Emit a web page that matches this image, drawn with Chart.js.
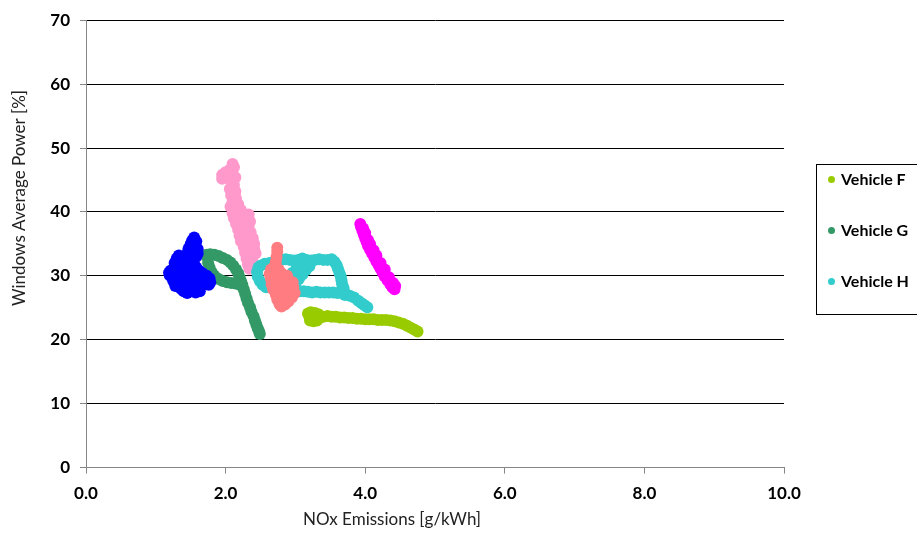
<!DOCTYPE html>
<html>
<head>
<meta charset="utf-8">
<script src="https://cdn.jsdelivr.net/npm/chart.js@4.4.1/dist/chart.umd.min.js"></script>
<style>
  html, body { margin:0; padding:0; background:#fff; }
  #wrap { position:relative; width:917px; height:542px; overflow:hidden; }
  #legend { position:absolute; left:816px; top:164px; width:120px; height:151px; border:1px solid #000; box-sizing:border-box;
            font-family:Lato, 'Open Sans', sans-serif; font-weight:700; font-size:16px; color:#000; }
  #legend div { position:absolute; left:0; height:20px; line-height:20px; white-space:nowrap; }
  #legend span { display:inline-block; width:7px; height:7px; border-radius:50%; margin:0 6px 0 11px; vertical-align:middle; position:relative; top:-1px; }
</style>
</head>
<body>
<div id="wrap">
  <canvas id="c" width="917" height="542"></canvas>
  <div id="legend"></div>
</div>
<script>
'use strict';

// NOx [g/kWh] vs windows average power [%]
const vehB = [[1.55,36.0],[1.52,35.5],[1.58,35.4],[1.5,35.0],[1.56,34.8],[1.47,34.3],[1.53,34.0],[1.45,33.5],[1.5,33.2],[1.4,33.0],[1.33,33.2],[1.3,32.7],[1.35,32.2],[1.27,32.0],[1.3,31.5],[1.25,31.0],[1.21,30.8],[1.19,30.5],[1.2,30.1],[1.23,29.8],[1.28,29.6],[1.3,29.0],[1.33,28.5],[1.36,28.0],[1.4,27.6],[1.45,27.3],[1.48,27.6],[1.5,28.2],[1.53,28.8],[1.58,29.2],[1.63,29.5],[1.68,29.2],[1.72,28.7],[1.76,28.6],[1.78,29.0],[1.77,29.6],[1.73,30.0],[1.67,30.4],[1.62,30.8],[1.58,31.3],[1.55,31.8],[1.5,32.4],[1.45,32.0],[1.42,31.4],[1.4,30.8],[1.38,30.2],[1.42,29.6],[1.45,29.0],[1.5,28.6],[1.6,28.0],[1.63,27.6],[1.57,27.4],[1.35,30.8],[1.3,30.2],[1.25,29.2],[1.28,28.4],[1.6,33.5],[1.6,34.2],[1.58,33.0],[1.48,30.5],[1.52,31.0],[1.68,29.8],[1.4,29.0]];
const vehC = [[2.10,47.5],[2.12,47.0],[2.06,46.6],[2.0,46.2],[1.95,45.8],[1.95,45.2],[2.02,45.5],[2.1,46.0],[2.14,45.4],[2.08,44.8],[2.12,44.2],[2.06,43.6],[2.14,43.2],[2.08,42.6],[2.15,42.1],[2.1,41.6],[2.18,41.2],[2.07,40.8],[2.14,40.5],[2.22,40.3],[2.1,39.8],[2.18,39.6],[2.27,39.5],[2.33,39.6],[2.12,39.0],[2.2,38.8],[2.3,38.7],[2.35,38.5],[2.15,38.1],[2.24,37.9],[2.33,37.7],[2.18,37.2],[2.27,37.0],[2.36,36.8],[2.2,36.3],[2.3,36.1],[2.39,35.9],[2.22,35.4],[2.32,35.2],[2.41,35.0],[2.26,34.5],[2.35,34.3],[2.41,34.2],[2.28,33.6],[2.36,33.4],[2.43,33.5],[2.3,32.7],[2.38,32.6],[2.32,31.8],[2.38,31.5],[2.34,31.1]];
const vehD = [[2.74,34.4],[2.74,33.8],[2.73,33.0],[2.72,32.2],[2.70,31.5],[2.65,31.0],[2.76,31.0],[2.63,30.3],[2.70,30.3],[2.80,30.4],[2.88,30.0],[2.65,29.5],[2.72,29.5],[2.80,29.6],[2.90,29.3],[2.96,29.0],[2.66,28.7],[2.74,28.7],[2.82,28.8],[2.92,28.5],[2.97,28.2],[2.68,27.9],[2.76,27.9],[2.85,27.9],[2.94,27.6],[2.99,27.3],[2.72,27.1],[2.8,27.0],[2.9,26.9],[2.95,26.6],[2.74,26.3],[2.82,26.2],[2.9,26.0],[2.77,25.6],[2.85,25.5],[2.8,25.2]];
const vehE = [[3.93,38.1],[3.94,37.7],[3.96,37.1],[3.98,36.5],[4.0,35.9],[4.02,35.3],[4.04,34.7],[4.07,34.1],[4.1,33.5],[4.13,32.9],[4.16,32.3],[4.19,31.7],[4.22,31.1],[4.25,30.5],[4.28,29.9],[4.32,29.3],[4.36,28.7],[4.39,28.2],[4.42,27.9],[3.97,37.4],[4.0,36.7],[4.04,35.6],[4.07,35.0],[4.12,34.0],[4.16,33.2],[4.22,32.0],[4.28,31.0],[4.34,29.8],[4.4,28.9],[4.43,28.4]];
const vehF = [[3.18,24.1],[3.22,24.3],[3.28,24.2],[3.33,24.0],[3.2,23.6],[3.27,23.5],[3.34,23.4],[3.21,23.0],[3.26,22.9],[3.31,23.0],[3.4,23.6],[3.46,23.7],[3.52,23.6],[3.58,23.6],[3.64,23.5],[3.7,23.5],[3.76,23.4],[3.82,23.4],[3.88,23.3],[3.94,23.3],[4.0,23.2],[4.06,23.2],[4.12,23.2],[4.18,23.1],[4.24,23.1],[4.3,23.1],[4.36,23.0],[4.42,22.9],[4.48,22.7],[4.54,22.5],[4.6,22.2],[4.65,21.9],[4.7,21.6],[4.75,21.3]];
const vehG = [[1.73,33.3],[1.78,33.4],[1.84,33.3],[1.9,33.1],[1.96,32.8],[2.02,32.5],[2.07,32.1],[2.11,31.6],[2.15,31.0],[2.18,30.4],[2.2,29.8],[2.22,29.2],[2.24,28.6],[2.26,27.9],[2.28,27.2],[2.3,26.5],[2.32,25.8],[2.35,25.1],[2.37,24.4],[2.4,23.7],[2.42,23.0],[2.44,22.4],[2.46,21.8],[2.48,21.3],[2.49,20.9],[1.74,32.8],[1.75,32.0],[1.77,31.3],[1.8,30.6],[1.84,30.0],[1.9,29.5],[1.96,29.2],[2.02,29.0],[2.08,28.9],[2.14,28.8],[2.2,28.6]];
const vehH = [[2.47,31.3],[2.45,30.6],[2.46,29.9],[2.49,29.2],[2.53,28.6],[2.58,28.2],[2.5,31.6],[2.56,31.9],[2.63,32.0],[2.7,32.2],[2.8,32.5],[2.86,32.6],[2.92,32.5],[2.98,32.4],[3.04,32.5],[3.1,32.7],[3.16,32.5],[3.22,32.4],[3.28,32.5],[3.34,32.6],[3.4,32.5],[3.46,32.5],[3.52,32.6],[3.56,32.2],[3.59,31.7],[3.61,31.1],[3.63,30.5],[3.65,29.9],[3.66,29.3],[3.67,28.7],[3.69,28.1],[3.7,27.5],[3.71,27.0],[3.66,27.3],[3.6,27.3],[3.54,27.4],[3.48,27.4],[3.42,27.4],[3.36,27.4],[3.3,27.5],[3.24,27.4],[3.18,27.5],[3.12,27.6],[3.06,27.6],[3.0,27.7],[2.96,28.2],[3.0,28.8],[3.05,29.5],[3.1,30.2],[3.15,30.9],[3.2,31.5],[2.96,30.5],[3.02,31.3],[3.08,31.9],[3.0,29.7],[3.78,26.9],[3.84,26.6],[3.9,26.1],[3.95,25.7],[3.99,25.4],[4.03,25.1]];

const seriesNames  = ['Vehicle B','Vehicle C','Vehicle D','Vehicle E','Vehicle F','Vehicle G','Vehicle H'];
const seriesData   = [vehB, vehC, vehD, vehE, vehF, vehG, vehH];
const seriesColors = ['#0000ff','#ff99cc','#ff7c80','#ff00ff','#99cc00','#339966','#33cccc'];
const seriesOrder  = [1, 5, 2, 7, 6, 3, 4];
const legendNames  = ['Vehicle F','Vehicle G','Vehicle H'];

const xTitle = 'NOx Emissions [g/kWh]';
const yTitle = 'Windows Average Power [%]';

const FONT = "Lato, 'Open Sans', sans-serif";
const AXIS_GRAY = '#868686';

// y title sits a bit above the plot middle in the original, so draw it by hand
const yTitlePlugin = {
    id:'yTitle',
    afterDraw(chart){
        const ctx = chart.ctx;
        ctx.save();
        ctx.translate(20, 198);
        ctx.rotate(-Math.PI/2);
        ctx.font = '17px ' + FONT;
        ctx.fillStyle = '#222';
        ctx.textAlign = 'center';
        ctx.textBaseline = 'middle';
        ctx.fillText(yTitle, 0, 0);
        ctx.restore();
    }
};

const datasets = seriesNames.map((name, i) => ({
    label: name,
    data: seriesData[i].map(p => ({ x:p[0], y:p[1] })),
    backgroundColor: seriesColors[i],
    borderWidth: 0,
    pointRadius: 6,
    order: seriesOrder[i]
}));

const chart = new Chart(document.getElementById('c').getContext('2d'), {
    type: 'scatter',
    data: { datasets },
    plugins: [yTitlePlugin],
    options: {
        responsive:false, animation:false, devicePixelRatio:1,
        layout:{ padding:{ left:0, right:133, top:11, bottom:12 } },
        plugins:{
            legend:{ display:false },
            tooltip:{ enabled:false },
            title:{ display:true, position:'bottom', text:xTitle, color:'#222',
                    font:{ family:FONT, size:17, weight:'normal' }, padding:{ top:0, bottom:0 } }
        },
        scales:{
            x:{
                type:'linear', min:0, max:10,
                afterFit: s => { s.height = 42; },
                grid:{ drawOnChartArea:false, drawTicks:true, tickLength:6, tickColor:AXIS_GRAY },
                border:{ color:AXIS_GRAY, width:1 },
                ticks:{ stepSize:2, padding:10, color:'#000', font:{ family:FONT, size:17, weight:'bold' },
                        callback: v => v.toFixed(1) }
            },
            y:{
                min:0, max:70,
                afterFit: s => { s.width = 86; },
                grid:{ color: c => c.tick.value === 0 ? AXIS_GRAY : '#000', lineWidth:1, tickLength:6, tickColor:AXIS_GRAY },
                border:{ color:AXIS_GRAY, width:1 },
                ticks:{ stepSize:10, padding:10, color:'#000', font:{ family:FONT, size:17, weight:'bold' } }
            }
        }
    }
});

// legend box built from the chart's datasets
const leg = document.getElementById('legend');
const rowTops = [4, 55, 106];
chart.data.datasets.filter(d => legendNames.includes(d.label)).forEach((d, i) => {
    const row = document.createElement('div');
    row.style.top = rowTops[i] + 'px';
    row.innerHTML = '<span style="background:' + d.backgroundColor + '"></span>' + d.label;
    leg.appendChild(row);
});
</script>
</body>
</html>
